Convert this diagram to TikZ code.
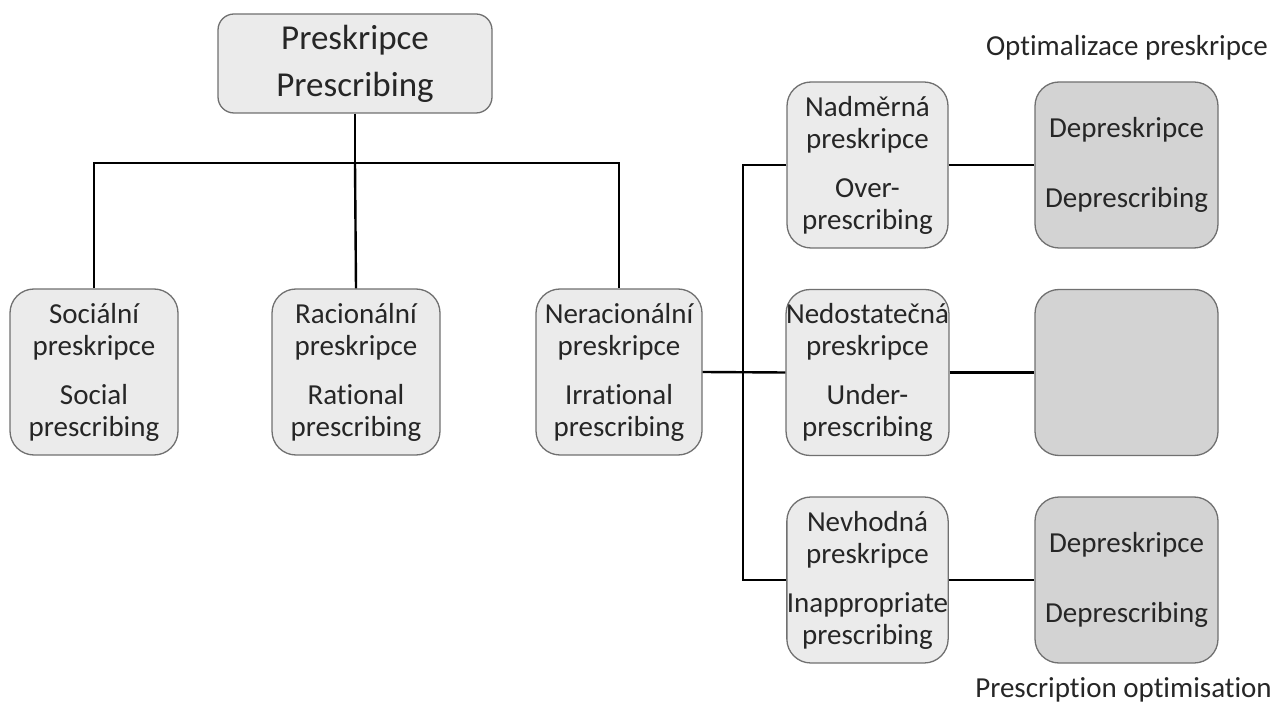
\documentclass[tikz,border=0pt]{standalone}
\usepackage{fontspec}
\setmainfont{Carlito}[Ligatures={NoCommon}]
\definecolor{lightbox}{HTML}{EBEBEB}
\definecolor{darkbox}{HTML}{D3D3D3}
\definecolor{boxline}{HTML}{707070}
\tikzset{
  x=1pt,y=-1pt,
  catbox/.style={draw=boxline, line width=1.3pt, fill=lightbox, rounded corners=24pt,
     align=center, inner sep=0pt, font=\fontsize{29}{32}\selectfont, text=black!85},
  optbox/.style={catbox, fill=darkbox},
  topbox/.style={catbox, rounded corners=16pt, font=\fontsize{35}{47}\selectfont},
  conn/.style={draw=black, line width=2.4pt},
  lbl/.style={font=\fontsize{29}{31}\selectfont, text=black!85, inner sep=0pt}
}
\begin{document}
\begin{tikzpicture}
\useasboundingbox (0,0) rectangle (1277,708);
\node[topbox, minimum width=274pt, minimum height=99pt] (top) at (355,63.5) {Preskripce\\Prescribing};
\node[catbox, minimum width=168pt, minimum height=166pt] (soc) at (94,372) {Sociální\\preskripce\\[17pt]Social\\prescribing};
\node[catbox, minimum width=168pt, minimum height=166pt] (rat) at (356,372) {Racionální\\preskripce\\[17pt]Rational\\prescribing};
\node[catbox, minimum width=166pt, minimum height=166pt] (irr) at (619,372) {Neracionální\\preskripce\\[17pt]Irrational\\prescribing};
\node[catbox, minimum width=161pt, minimum height=166pt] (over) at (867.5,165) {Nadměrná\\preskripce\\[17pt]Over-\\prescribing};
\node[catbox, minimum width=161pt, minimum height=166pt] (under) at (867.5,372.5) {Nedostatečná\\preskripce\\[17pt]Under-\\prescribing};
\node[catbox, minimum width=161pt, minimum height=166pt] (inap) at (867.5,580) {Nevhodná\\preskripce\\[17pt]Inappropriate\\prescribing};
\node[optbox, minimum width=183pt, minimum height=166pt] (dep1) at (1126.5,165) {Depreskripce\\[38pt]Deprescribing};
\node[optbox, minimum width=183pt, minimum height=166pt] (dep2) at (1126.5,372.5) {};
\node[optbox, minimum width=183pt, minimum height=166pt] (dep3) at (1126.5,580) {Depreskripce\\[38pt]Deprescribing};
\node[lbl, anchor=east] (optcz) at (1268,48) {Optimalizace preskripce};
\node[lbl, anchor=east] (opten) at (1272,690) {Prescription optimisation};
\coordinate (bar) at (355,163);
\coordinate (spine) at (743,372);
\draw[conn] (top.south) -- (bar);
\draw[conn] (soc.north) |- (bar) -| (irr.north);
\draw[conn] (bar) -- (rat.north);
\draw[conn] (irr.east) -- (under.west);
\draw[conn] (over.west) -- (over.west -| spine) -- (inap.west -| spine) -- (inap.west);
\draw[conn] (over.east) -- (dep1.west);
\draw[conn] (under.east) -- (dep2.west);
\draw[conn] (inap.east) -- (dep3.west);
\end{tikzpicture}
\end{document}
